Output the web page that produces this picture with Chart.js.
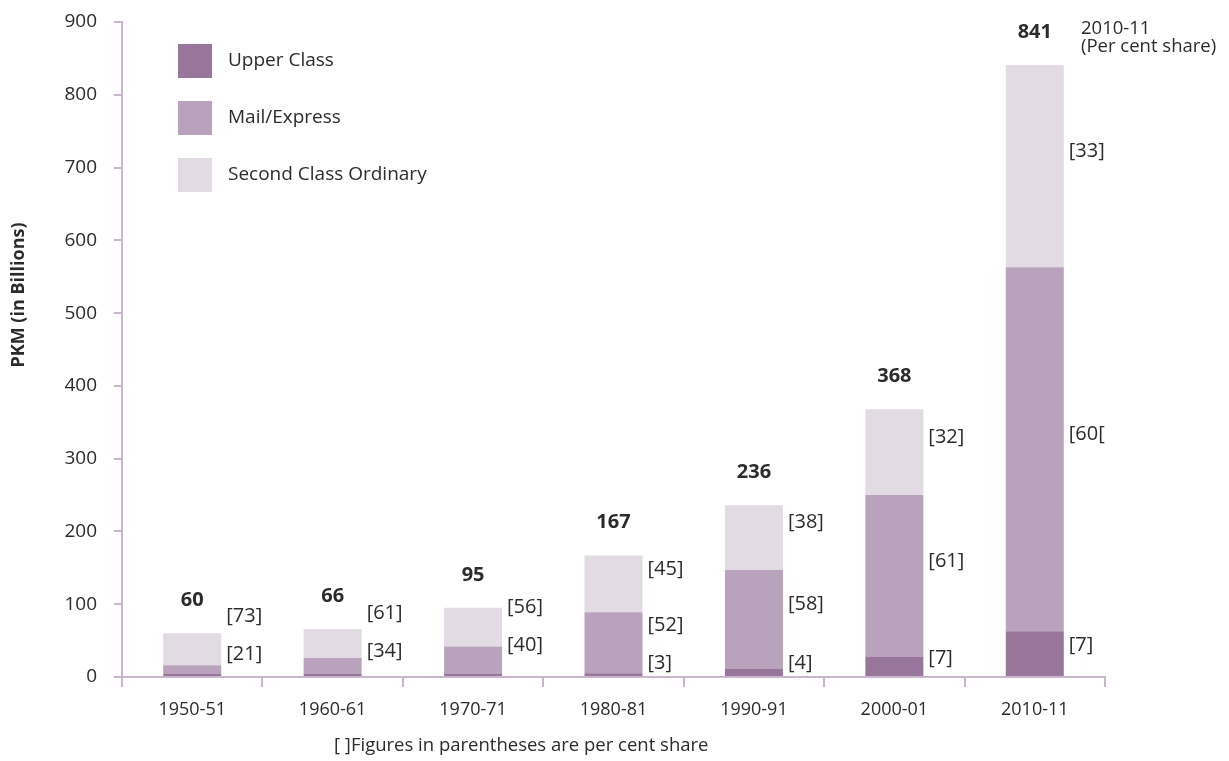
<!DOCTYPE html>
<html>
<head>
<meta charset="utf-8">
<script src="https://cdn.jsdelivr.net/npm/chart.js@4.4.0/dist/chart.umd.min.js"></script>
<style>
  html, body { margin: 0; padding: 0; background: #fff; }
  #wrap { width: 1229px; height: 761px; }
</style>
</head>
<body>
<div id="wrap"><canvas id="pkmChart" width="1229" height="761"></canvas></div>
<script>
// dados (PKM em bilhões)
const years = ['1950-51', '1960-61', '1970-71', '1980-81', '1990-91', '2000-01', '2010-11'];
const upperClass = [4, 4, 4, 5, 11, 28, 63];
const mailExpress = [12, 22, 38, 84, 136, 222, 500];
const secondOrdinary = [44, 40, 53, 78, 89, 118, 278];
const totals = [60, 66, 95, 167, 236, 368, 841];

// participação percentual (texto como no original)
const upperShare = [null, null, null, '[3]', '[4]', '[7]', '[7]'];
const mailShare = ['[21]', '[34]', '[40]', '[52]', '[58]', '[61]', '[60['];
const secondShare = ['[73]', '[61]', '[56]', '[45]', '[38]', '[32]', '[33]'];

const yTicks = [0, 100, 200, 300, 400, 500, 600, 700, 800, 900];

const axisColor = '#c9b5cc';
const textColor = '#2b2b2b';
const FONT = "'Open Sans', sans-serif";

// rótulos: totais, percentuais, legenda, títulos
const labelPlugin = {
  id: 'labelPlugin',
  afterDatasetsDraw(chart) {
    const ctx = chart.ctx;
    const shares = [upperShare, mailShare, secondShare];
    ctx.save();
    ctx.fillStyle = textColor;

    years.forEach((y, i) => {
      // percentuais à direita da barra
      let prev = 663;
      for (let k = 0; k < 3; k++) {
        const el = chart.getDatasetMeta(k).data[i];
        const txt = shares[k][i];
        if (!txt) continue;
        let py = (el.y + el.base) / 2 - (k === 0 ? 8 : 15);
        py = Math.min(py, prev);
        prev = py - 38;
        ctx.font = '20px ' + FONT;
        ctx.textAlign = 'left';
        ctx.textBaseline = 'middle';
        ctx.fillText(txt, el.x + el.width / 2 + 5, py);
      }
      // total acima da barra
      const top = chart.getDatasetMeta(2).data[i];
      ctx.font = 'bold 20px ' + FONT;
      ctx.textAlign = 'center';
      ctx.textBaseline = 'middle';
      ctx.fillText(String(totals[i]), top.x, top.y - 33);
    });

    // legenda manual
    chart.data.datasets.forEach((ds, k) => {
      const by = 44 + k * 57;
      ctx.fillStyle = ds.backgroundColor;
      ctx.fillRect(178, by, 34, 34);
      ctx.fillStyle = textColor;
      ctx.font = '19px ' + FONT;
      ctx.textAlign = 'left';
      ctx.textBaseline = 'middle';
      ctx.fillText(ds.label, 228, by + 17);
    });

    // nota do 2010-11
    ctx.font = '18.5px ' + FONT;
    ctx.fillText('2010-11', 1081, 29);
    ctx.fillText('(Per cent share)', 1081, 47);

    // rodapé
    ctx.font = '18.5px ' + FONT;
    ctx.fillText('[ ]Figures in parentheses are per cent share', 334, 746);

    // título do eixo y
    ctx.translate(19, 295);
    ctx.rotate(-Math.PI / 2);
    ctx.font = 'bold 18px ' + FONT;
    ctx.textAlign = 'center';
    ctx.fillText('PKM (in Billions)', 0, 0);
    ctx.restore();
  }
};

new Chart(document.getElementById('pkmChart'), {
  type: 'bar',
  data: {
    labels: years,
    datasets: [
      { label: 'Upper Class', data: upperClass, backgroundColor: '#98759b' },
      { label: 'Mail/Express', data: mailExpress, backgroundColor: '#b9a2bb' },
      { label: 'Second Class Ordinary', data: secondOrdinary, backgroundColor: '#e2dbe3' }
    ]
  },
  options: {
    responsive: false,
    animation: false,
    barPercentage: 0.413,
    categoryPercentage: 1,
    layout: { padding: { top: 22, right: 124, left: 0, bottom: 0 } },
    plugins: {
      legend: { display: false },
      tooltip: { enabled: false }
    },
    scales: {
      x: {
        stacked: true,
        grid: { offset: true, drawOnChartArea: false, tickLength: 10, color: axisColor, lineWidth: 2 },
        border: { color: axisColor, width: 2 },
        ticks: { color: textColor, font: { size: 18, family: FONT }, padding: 12 },
        afterFit: s => { s.height = 84; s.paddingLeft = 0; s.paddingRight = 0; }
      },
      y: {
        stacked: true,
        min: 0,
        max: 900,
        afterBuildTicks: s => { s.ticks = yTicks.map(v => ({ value: v })); },
        grid: { drawOnChartArea: false, tickLength: 8, color: axisColor, lineWidth: 2 },
        border: { color: axisColor, width: 2 },
        ticks: { color: textColor, font: { size: 19, family: FONT }, padding: 17 },
        afterFit: s => { s.width = 122; s.paddingTop = 0; s.paddingBottom = 0; }
      }
    }
  },
  plugins: [labelPlugin]
});
</script>
</body>
</html>
